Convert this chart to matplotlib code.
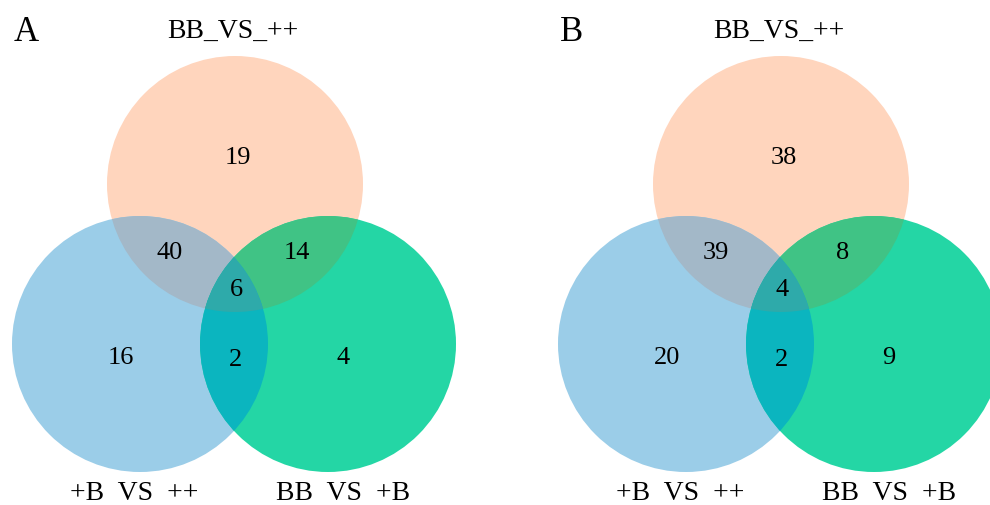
import numpy as np
import matplotlib
matplotlib.use("Agg")
import matplotlib.pyplot as plt
from matplotlib.patches import Circle, PathPatch
from matplotlib.path import Path

# Set names (top, bottom-left, bottom-right)
set_names = ["BB_VS_++", "+B  VS  ++", "BB  VS  +B"]
panel_letters = ["A", "B"]

# Region counts per panel:
# only top, only left, only right, top&left, top&right, left&right, all three
counts_A = [19, 16, 4, 40, 14, 2, 6]
counts_B = [38, 20, 9, 39, 8, 2, 4]

# Fill colours for each region
col_top = "#FFD5BD"
col_left = "#9BCDE8"
col_right = "#24D6A5"
col_top_left = "#A3B8C8"
col_top_right = "#40C385"
col_left_right = "#0BB5BF"
col_all = "#2EAAAA"

W, H = 990, 506
fig = plt.figure(figsize=(W / 100, H / 100), dpi=100)
ax = fig.add_axes([0, 0, 1, 1])
ax.set_xlim(0, W)
ax.set_ylim(H, 0)
ax.set_aspect("equal")
ax.axis("off")

FONT = "Liberation Serif"
R = 128


def circle_intersections(c1, c2, r):
    c1, c2 = np.asarray(c1, float), np.asarray(c2, float)
    d = np.linalg.norm(c2 - c1)
    a = d / 2
    h = np.sqrt(r * r - a * a)
    m = c1 + (c2 - c1) * 0.5
    perp = np.array([-(c2 - c1)[1], (c2 - c1)[0]]) / d
    return [m + h * perp, m - h * perp]


def inside(p, c, r):
    return np.linalg.norm(np.asarray(p) - np.asarray(c)) <= r + 1e-6


def triple_path(centers, r):
    # boundary of the common region of three equal circles, built from arcs
    verts, codes = [], []
    arcs = []
    for i in range(3):
        j, k = [n for n in range(3) if n != i]
        pts = []
        for other in (j, k):
            third = [n for n in range(3) if n not in (i, other)][0]
            for p in circle_intersections(centers[i], centers[other], r):
                if inside(p, centers[third], r):
                    pts.append(p)
        c = np.asarray(centers[i], float)
        angs = [np.degrees(np.arctan2(p[1] - c[1], p[0] - c[0])) for p in pts]
        t1, t2 = angs
        mid = np.radians((t1 + ((t2 - t1) % 360) / 2))
        mp = c + r * np.array([np.cos(mid), np.sin(mid)])
        if not all(inside(mp, centers[n], r) for n in (j, k)):
            t1, t2 = t2, t1
        if t2 < t1:
            t2 += 360
        arcs.append((c, t1, t2))
    # order arcs by where their midpoint sits around the region
    centroid = np.mean([np.asarray(c) for c in centers], axis=0)

    def mid_angle(a):
        c, t1, t2 = a
        m = np.radians((t1 + t2) / 2)
        p = c + r * np.array([np.cos(m), np.sin(m)])
        return np.arctan2(p[1] - centroid[1], p[0] - centroid[0])

    arcs.sort(key=mid_angle)
    for n, (c, t1, t2) in enumerate(arcs):
        arc = Path.arc(t1, t2)
        v = arc.vertices * r + c
        cd = list(arc.codes)
        if n > 0:
            cd[0] = Path.LINETO
        verts.extend(v)
        codes.extend(cd)
    verts.append(verts[0])
    codes.append(Path.CLOSEPOLY)
    return Path(verts, codes)


def draw_panel(x0, letter, counts):
    top = (x0 + 235, 185)
    left = (x0 + 140, 345)
    right = (x0 + 328, 345)
    centers = [top, left, right]

    c_top = Circle(top, R, fc=col_top, ec="none", zorder=1)
    c_left = Circle(left, R, fc=col_left, ec="none", zorder=1)
    c_right = Circle(right, R, fc=col_right, ec="none", zorder=1)
    for c in (c_top, c_left, c_right):
        ax.add_patch(c)

    for (a, b, col) in [(c_top, left, col_top_left),
                        (c_top, right, col_top_right),
                        (c_left, right, col_left_right)]:
        p = Circle(b, R, fc=col, ec="none", zorder=2)
        ax.add_patch(p)
        p.set_clip_path(a)

    ax.add_patch(PathPatch(triple_path(centers, R), fc=col_all, ec="none", zorder=3))

    only_top, only_left, only_right, tl, tr, lr, allc = counts
    pos = [
        (only_top, (x0 + 238, 158)),
        (tl, (x0 + 170, 253)),
        (tr, (x0 + 297, 253)),
        (allc, (x0 + 236, 290)),
        (only_left, (x0 + 121, 358)),
        (lr, (x0 + 236, 360)),
        (only_right, (x0 + 343, 358)),
    ]
    for val, (x, y) in pos:
        ax.text(x, y, str(val), ha="center", va="center", fontsize=19,
                family=FONT, zorder=5)

    ax.text(x0 + 26, 32, letter, ha="center", va="center", fontsize=25,
            family=FONT, zorder=5)
    ax.text(x0 + 233, 31, set_names[0], ha="center", va="center", fontsize=20,
            family=FONT, zorder=5)
    ax.text(x0 + 134, 500, set_names[1], ha="center", va="baseline", fontsize=20,
            family=FONT, zorder=5)
    ax.text(x0 + 343, 500, set_names[2], ha="center", va="baseline", fontsize=20,
            family=FONT, zorder=5)


draw_panel(0, panel_letters[0], counts_A)
draw_panel(546, panel_letters[1], counts_B)

fig.savefig("out.png", dpi=100, facecolor="white")
